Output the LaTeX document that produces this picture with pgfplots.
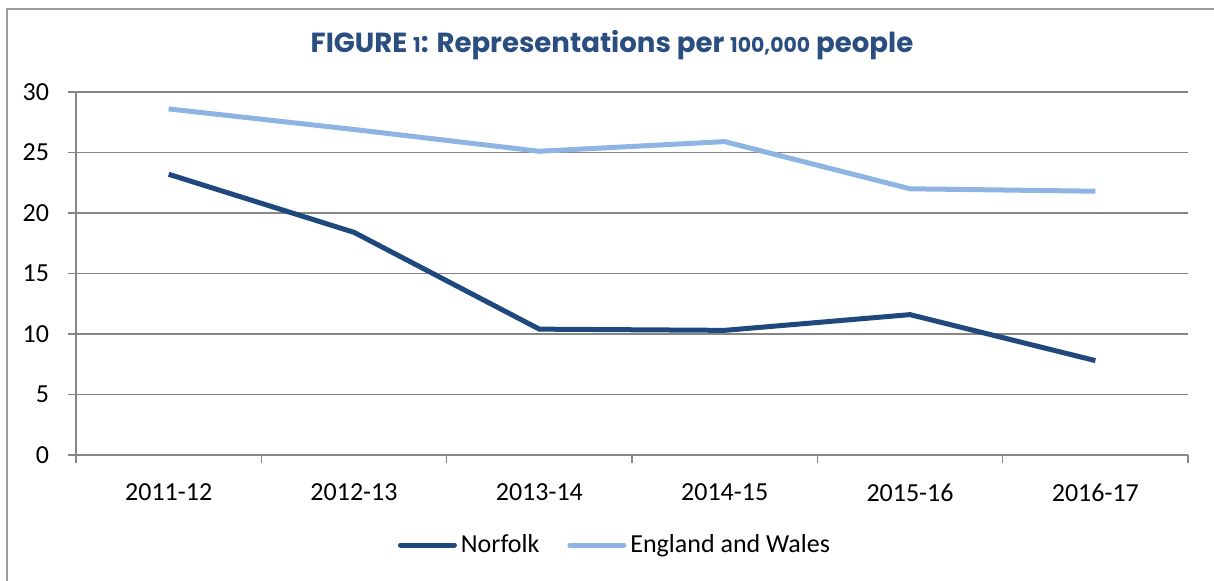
\documentclass[border=0pt]{standalone}
\usepackage{pgfplots}
\pgfplotsset{compat=1.18}
\usepackage{fontspec}
\setmainfont{Carlito}
\newfontfamily\titlefont{Poppins}[UprightFont=* Bold]
\definecolor{norf}{HTML}{1F497D}
\definecolor{eaw}{HTML}{8EB4E3}
\definecolor{gridc}{HTML}{868686}
\definecolor{titlec}{HTML}{2A4E80}
\begin{document}
\begin{tikzpicture}
\useasboundingbox (0pt,0pt) rectangle (607pt,290.5pt);
\draw[gridc!80, line width=1.2pt] (3.5pt,0pt) -- (3.5pt,286pt) -- (607pt,286pt);
\node[text=titlec, font=\titlefont\fontsize{13.8}{16}\selectfont] at (306pt,268pt) {FIGURE {\fontsize{10.2}{12}\selectfont 1}: Representations per {\fontsize{10.2}{12}\selectfont 100,000} people};
\begin{axis}[
  at={(38pt,63pt)}, anchor=south west,
  scale only axis, width=556pt, height=181.5pt,
  xmin=-0.5, xmax=5.5, ymin=0, ymax=30,
  ytick={0,5,...,30},
  xtick={0,...,5},
  xticklabels={2011-12,2012-13,2013-14,2014-15,2015-16,2016-17},
  minor xtick={-0.5,0.5,...,5.5},
  tick align=outside,
  major tick length=4pt, minor tick length=4pt,
  x tick style={draw=none},
  minor x tick style={draw=gridc, line width=0.6pt},
  y tick style={draw=gridc, line width=0.6pt},
  ymajorgrids, grid style={gridc, line width=0.6pt},
  axis x line*=bottom, axis y line*=left,
  axis line style={gridc, line width=0.6pt, -},
  tick label style={font=\fontsize{13}{15}\selectfont},
  /pgf/number format/assume math mode=true,
  yticklabel style={xshift=-6pt},
  xticklabel style={yshift=-7pt},
  legend style={at={(rel axis cs:0.4856,-0.248)}, anchor=center, draw=none, legend columns=2, font=\fontsize{13}{15}\selectfont, /tikz/every even column/.append style={column sep=12pt}},
  legend image code/.code={\draw[#1, line cap=round] (0pt,0pt) -- (27pt,0pt);},
]
\addplot[norf, line width=2.5pt, line join=round] coordinates {(0,23.2) (1,18.4) (2,10.4) (3,10.3) (4,11.6) (5,7.8)};
\addlegendentry{Norfolk}
\addplot[eaw, line width=2.5pt, line join=round] coordinates {(0,28.6) (1,26.9) (2,25.1) (3,25.9) (4,22.0) (5,21.8)};
\addlegendentry{England and Wales}
\end{axis}
\end{tikzpicture}
\end{document}
